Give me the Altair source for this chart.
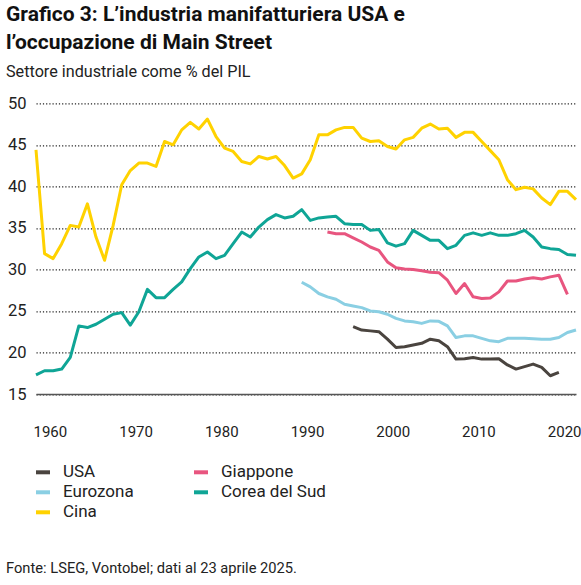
import altair as alt
import pandas as pd

# ---- data ----
china_years = list(range(1960, 2024))
china = [44.4, 31.9, 31.3, 33.1, 35.3, 35.1, 37.9, 33.9, 31.1, 35.3,
         40.2, 41.9, 42.8, 42.8, 42.4, 45.4, 45.0, 46.8, 47.7, 46.9,
         48.1, 46.0, 44.6, 44.2, 43.0, 42.7, 43.6, 43.3, 43.6, 42.5,
         41.0, 41.5, 43.2, 46.2, 46.2, 46.8, 47.1, 47.1, 45.8, 45.4,
         45.5, 44.8, 44.5, 45.6, 45.9, 47.0, 47.5, 46.9, 47.0, 45.9,
         46.5, 46.5, 45.4, 44.3, 43.2, 40.8, 39.6, 39.9, 39.7, 38.6,
         37.8, 39.4, 39.4, 38.4]

korea_years = list(range(1960, 2024))
korea = [17.3, 17.8, 17.8, 18.0, 19.4, 23.2, 23.0, 23.4, 24.0, 24.6,
         24.8, 23.3, 24.9, 27.6, 26.6, 26.6, 27.6, 28.5, 30.1, 31.5,
         32.1, 31.3, 31.7, 33.1, 34.5, 33.9, 35.1, 36.0, 36.6, 36.2,
         36.4, 37.2, 35.9, 36.2, 36.3, 36.4, 35.5, 35.4, 35.4, 34.7,
         34.8, 33.2, 32.8, 33.1, 34.7, 34.1, 33.5, 33.5, 32.5, 32.9,
         34.1, 34.4, 34.1, 34.4, 34.1, 34.1, 34.3, 34.7, 33.9, 32.7,
         32.5, 32.4, 31.8, 31.7]

japan_years = list(range(1994, 2023))
japan = [34.5, 34.3, 34.3, 33.8, 33.3, 32.7,
         32.3, 30.9, 30.2, 30.05, 30.0, 29.85, 29.65, 29.6, 28.7, 27.1,
         28.3, 26.7, 26.5, 26.55, 27.3, 28.6, 28.6, 28.85, 29.0, 28.85,
         29.1, 29.3, 27.0]

euro_years = list(range(1991, 2024))
euro = [28.45, 27.9, 27.1, 26.7, 26.4, 25.8, 25.6, 25.4, 25.0,
        24.9, 24.6, 24.1, 23.8, 23.7, 23.5, 23.8, 23.75, 23.2, 21.8,
        22.0, 22.0, 21.7, 21.4, 21.3, 21.7, 21.7, 21.7, 21.65, 21.6,
        21.6, 21.8, 22.4, 22.7]

usa_years = list(range(1997, 2022))
usa = [23.1, 22.7, 22.6,
       22.5, 21.6, 20.6, 20.7, 20.9, 21.1, 21.6, 21.4, 20.7, 19.2,
       19.25, 19.4, 19.2, 19.2, 19.25, 18.5, 18.0, 18.3, 18.6, 18.2,
       17.2, 17.6]

legend_order = ["USA", "Eurozona", "Cina", "Giappone", "Corea del Sud"]
colors = ["#4a443f", "#8acfe3", "#ffd200", "#e8557f", "#0fa596"]
x_ticks = [1960, 1970, 1980, 1990, 2000, 2010, 2020]
y_ticks = [15, 20, 25, 30, 35, 40, 45, 50]

title_lines = ["Grafico 3: L’industria manifatturiera USA e", "l’occupazione di Main Street"]
subtitle = "Settore industriale come % del PIL"
source = "Fonte: LSEG, Vontobel; dati al 23 aprile 2025."

rows = []
for name, yrs, vals in [("Cina", china_years, china), ("Corea del Sud", korea_years, korea),
                        ("Giappone", japan_years, japan), ("Eurozona", euro_years, euro),
                        ("USA", usa_years, usa)]:
    for y, v in zip(yrs, vals):
        rows.append({"anno": y, "valore": v, "serie": name})
df = pd.DataFrame(rows)

FONT = "Roboto"

lines = alt.Chart(df).mark_line(strokeWidth=3, strokeJoin="round").encode(
    x=alt.X("anno:Q", scale=alt.Scale(domain=[1960, 2023], nice=False, zero=False),
            axis=alt.Axis(values=x_ticks, format="d", title=None, grid=False, ticks=False,
                          labelAlign="left", labelPadding=30, labelFontSize=15,
                          labelOffset=-3,
                          labelFont=FONT, labelColor="#222", domainColor="#555",
                          domainWidth=1.5, labelFlush=False)),
    y=alt.Y("valore:Q", scale=alt.Scale(domain=[15, 50], nice=False, zero=False),
            axis=alt.Axis(values=y_ticks, title=None, grid=True, gridDash=[1.2, 2],
                          gridColor="#222", gridWidth=1.2, ticks=False, domain=False,
                          labelPadding=10, labelFontSize=16.5, labelFont=FONT,
                          labelColor="#222")),
    color=alt.Color("serie:N", scale=alt.Scale(domain=legend_order, range=colors),
                    legend=alt.Legend(title=None, orient="none", legendX=-2, legendY=360,
                                      columns=2, symbolType="stroke", symbolStrokeWidth=4,
                                      symbolSize=196, labelFontSize=17, labelFont=FONT,
                                      labelColor="#222", labelOffset=11, rowPadding=3,
                                      columnPadding=52)),
    detail="serie:N",
)

src = alt.Chart(pd.DataFrame({"t": [source]})).mark_text(
    align="left", baseline="middle", fontSize=14.7, font=FONT, color="#222"
).encode(x=alt.value(-30), y=alt.value(466), text="t:N")

chart = alt.layer(lines, src).properties(
    width=540, height=290.7,
    autosize=alt.AutoSizeParams(type="none"),
    padding={"left": 36, "top": 103.3, "right": 5, "bottom": 191},
    title=alt.Title(title_lines, subtitle=subtitle, anchor="start", font=FONT,
                    fontSize=21, fontWeight="bold", color="#111", lineHeight=28,
                    subtitleFont=FONT, subtitleFontSize=16.2, subtitleColor="#222",
                    subtitlePadding=11, offset=15),
).configure_view(stroke=None)

chart.save("out.html", embed_options={"renderer": "svg", "actions": False})
